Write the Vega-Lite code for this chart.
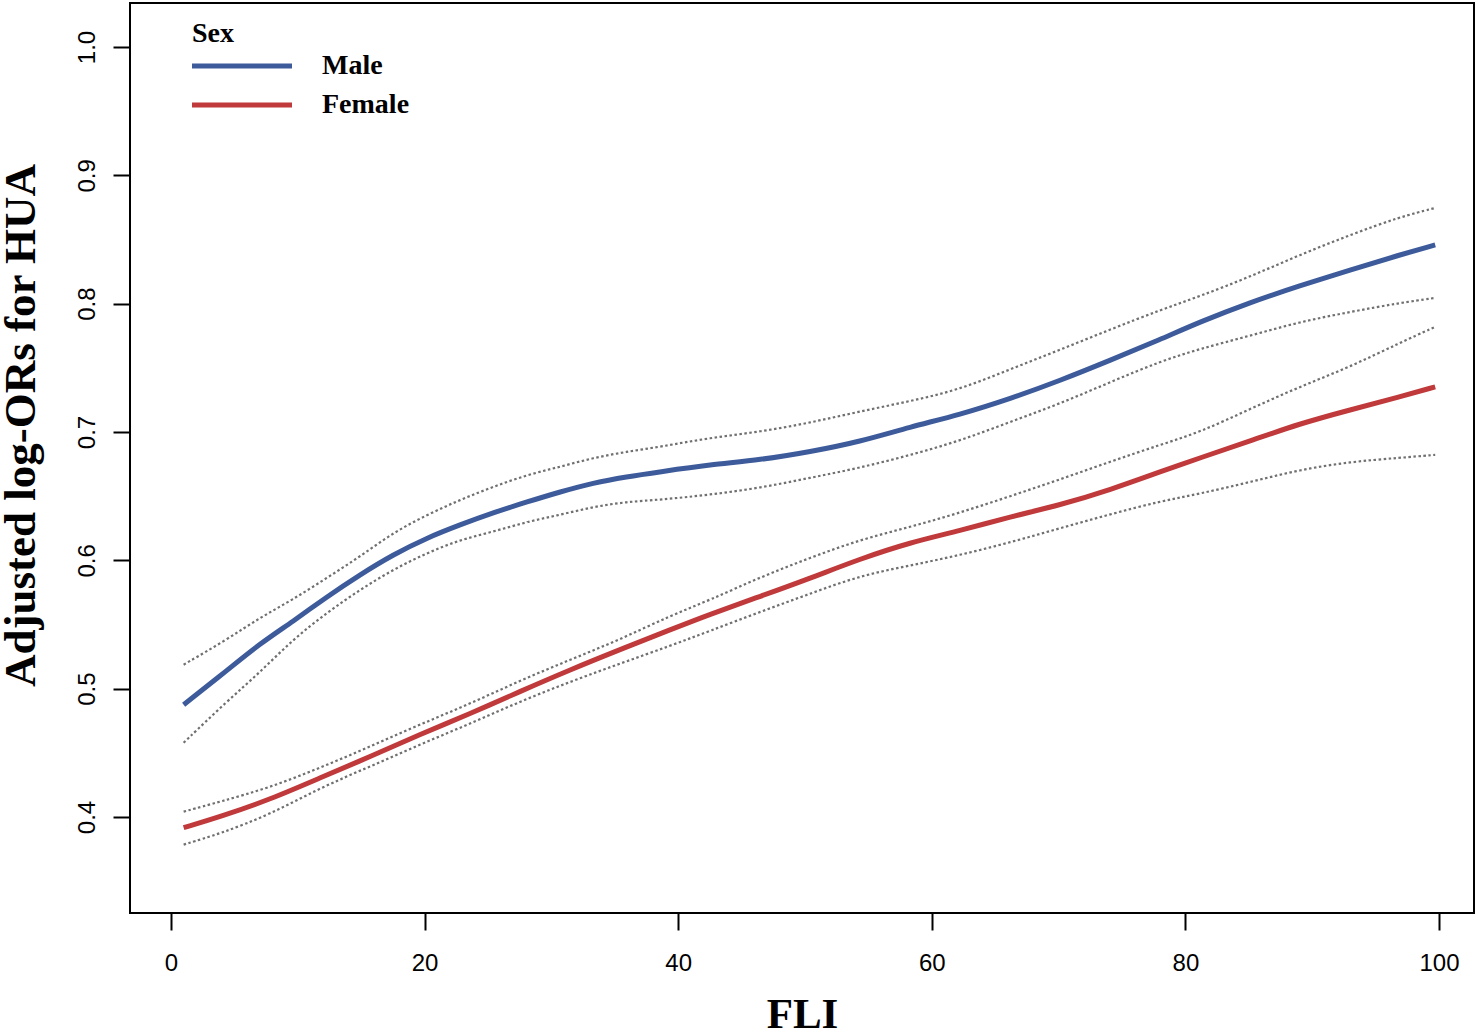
{
  "$schema": "https://vega.github.io/schema/vega-lite/v6.json",
  "description": "Adjusted log-ORs for HUA by FLI and sex",
  "width": 1344,
  "height": 910,
  "autosize": {"type": "none"},
  "padding": {"left": 130, "top": 3, "right": 2, "bottom": 121},
  "background": "white",
  "config": {
    "view": {"stroke": "#000000", "strokeWidth": 2},
    "axis": {
      "domain": false,
      "grid": false,
      "ticks": true,
      "tickColor": "#000000",
      "tickWidth": 2,
      "tickSize": 17,
      "labelFont": "Liberation Sans",
      "labelFontSize": 24,
      "labelColor": "#000000",
      "titleFont": "Liberation Serif",
      "titleFontSize": 43,
      "titleFontWeight": "bold",
      "titleColor": "#000000"
    }
  },
  "data": {
    "values": [
      {"fli": 1, "sex": "Male", "est": 0.4875, "lo": 0.4579, "hi": 0.5187},
      {"fli": 4.4, "sex": "Male", "est": 0.514, "lo": 0.49, "hi": 0.5382},
      {"fli": 7, "sex": "Male", "est": 0.535, "lo": 0.5125, "hi": 0.5553},
      {"fli": 9.6, "sex": "Male", "est": 0.5522, "lo": 0.5382, "hi": 0.5693},
      {"fli": 12.3, "sex": "Male", "est": 0.5717, "lo": 0.5592, "hi": 0.5864},
      {"fli": 14.9, "sex": "Male", "est": 0.5888, "lo": 0.5771, "hi": 0.6028},
      {"fli": 17.5, "sex": "Male", "est": 0.6044, "lo": 0.5927, "hi": 0.6215},
      {"fli": 20.2, "sex": "Male", "est": 0.6176, "lo": 0.6059, "hi": 0.6355},
      {"fli": 22.8, "sex": "Male", "est": 0.6277, "lo": 0.616, "hi": 0.6472},
      {"fli": 25.4, "sex": "Male", "est": 0.6371, "lo": 0.6223, "hi": 0.6573},
      {"fli": 28.1, "sex": "Male", "est": 0.6456, "lo": 0.6301, "hi": 0.6667},
      {"fli": 30.7, "sex": "Male", "est": 0.6534, "lo": 0.6355, "hi": 0.6729},
      {"fli": 33.3, "sex": "Male", "est": 0.6604, "lo": 0.6417, "hi": 0.6799},
      {"fli": 35.9, "sex": "Male", "est": 0.6651, "lo": 0.6456, "hi": 0.6846},
      {"fli": 38.6, "sex": "Male", "est": 0.669, "lo": 0.6472, "hi": 0.6885},
      {"fli": 42.5, "sex": "Male", "est": 0.6745, "lo": 0.6511, "hi": 0.6955},
      {"fli": 46.5, "sex": "Male", "est": 0.6783, "lo": 0.6565, "hi": 0.7002},
      {"fli": 50.4, "sex": "Male", "est": 0.6846, "lo": 0.6643, "hi": 0.7072},
      {"fli": 54.3, "sex": "Male", "est": 0.6924, "lo": 0.672, "hi": 0.716},
      {"fli": 58.3, "sex": "Male", "est": 0.704, "lo": 0.682, "hi": 0.724},
      {"fli": 62.2, "sex": "Male", "est": 0.7135, "lo": 0.693, "hi": 0.733},
      {"fli": 66.2, "sex": "Male", "est": 0.726, "lo": 0.708, "hi": 0.749},
      {"fli": 70.1, "sex": "Male", "est": 0.74, "lo": 0.722, "hi": 0.764},
      {"fli": 74.1, "sex": "Male", "est": 0.756, "lo": 0.739, "hi": 0.78},
      {"fli": 78, "sex": "Male", "est": 0.772, "lo": 0.755, "hi": 0.795},
      {"fli": 81.2, "sex": "Male", "est": 0.786, "lo": 0.765, "hi": 0.806},
      {"fli": 85.1, "sex": "Male", "est": 0.801, "lo": 0.775, "hi": 0.821},
      {"fli": 89, "sex": "Male", "est": 0.814, "lo": 0.7858, "hi": 0.838},
      {"fli": 93, "sex": "Male", "est": 0.8263, "lo": 0.7936, "hi": 0.8536},
      {"fli": 96.9, "sex": "Male", "est": 0.838, "lo": 0.8006, "hi": 0.8676},
      {"fli": 99.7, "sex": "Male", "est": 0.8458, "lo": 0.8045, "hi": 0.8746},
      {"fli": 1, "sex": "Female", "est": 0.3917, "lo": 0.3785, "hi": 0.4042},
      {"fli": 3.9, "sex": "Female", "est": 0.4003, "lo": 0.3871, "hi": 0.412},
      {"fli": 7.8, "sex": "Female", "est": 0.4136, "lo": 0.4019, "hi": 0.4229},
      {"fli": 11.8, "sex": "Female", "est": 0.4307, "lo": 0.4229, "hi": 0.4385},
      {"fli": 15.7, "sex": "Female", "est": 0.447, "lo": 0.4393, "hi": 0.4548},
      {"fli": 19.6, "sex": "Female", "est": 0.4642, "lo": 0.4564, "hi": 0.472},
      {"fli": 23.6, "sex": "Female", "est": 0.4805, "lo": 0.4727, "hi": 0.4883},
      {"fli": 27.5, "sex": "Female", "est": 0.4977, "lo": 0.4899, "hi": 0.5062},
      {"fli": 31.5, "sex": "Female", "est": 0.5148, "lo": 0.5055, "hi": 0.5226},
      {"fli": 35.4, "sex": "Female", "est": 0.5304, "lo": 0.5195, "hi": 0.5382},
      {"fli": 39.4, "sex": "Female", "est": 0.546, "lo": 0.5335, "hi": 0.557},
      {"fli": 42.5, "sex": "Female", "est": 0.558, "lo": 0.545, "hi": 0.569},
      {"fli": 46.5, "sex": "Female", "est": 0.572, "lo": 0.56, "hi": 0.587},
      {"fli": 50.4, "sex": "Female", "est": 0.586, "lo": 0.574, "hi": 0.602},
      {"fli": 54.3, "sex": "Female", "est": 0.601, "lo": 0.588, "hi": 0.616},
      {"fli": 58.3, "sex": "Female", "est": 0.614, "lo": 0.596, "hi": 0.626},
      {"fli": 62.2, "sex": "Female", "est": 0.623, "lo": 0.604, "hi": 0.637},
      {"fli": 66.2, "sex": "Female", "est": 0.634, "lo": 0.614, "hi": 0.65},
      {"fli": 70.1, "sex": "Female", "est": 0.643, "lo": 0.625, "hi": 0.663},
      {"fli": 74.1, "sex": "Female", "est": 0.655, "lo": 0.636, "hi": 0.677},
      {"fli": 78, "sex": "Female", "est": 0.669, "lo": 0.646, "hi": 0.69},
      {"fli": 81.2, "sex": "Female", "est": 0.68, "lo": 0.652, "hi": 0.7},
      {"fli": 85.1, "sex": "Female", "est": 0.693, "lo": 0.661, "hi": 0.718},
      {"fli": 89, "sex": "Female", "est": 0.7065, "lo": 0.6706, "hi": 0.7352},
      {"fli": 93, "sex": "Female", "est": 0.7173, "lo": 0.6768, "hi": 0.7508},
      {"fli": 96.9, "sex": "Female", "est": 0.7274, "lo": 0.6799, "hi": 0.7695},
      {"fli": 99.7, "sex": "Female", "est": 0.7352, "lo": 0.6822, "hi": 0.7819}
    ]
  },
  "encoding": {
    "x": {
      "field": "fli",
      "type": "quantitative",
      "scale": {"domain": [-3.23, 102.76], "nice": false, "zero": false},
      "axis": {
        "title": "FLI",
        "values": [0, 20, 40, 60, 80, 100],
        "labelPadding": 21,
        "titleY": 101,
        "titleBaseline": "middle"
      }
    }
  },
  "layer": [
    {
      "mark": {"type": "line", "interpolate": "basis", "color": "#707070", "strokeWidth": 2.2, "strokeDash": [2.5, 2.5]},
      "encoding": {
        "y": {
          "field": "lo",
          "type": "quantitative",
          "scale": {"domain": [0.3252, 1.0343], "nice": false, "zero": false},
          "axis": {
            "title": "Adjusted log-ORs for HUA",
            "titleFontSize": 45,
            "values": [0.4, 0.5, 0.6, 0.7, 0.8, 0.9, 1.0],
            "format": ".1f",
            "labelAngle": 270,
            "labelAlign": "center",
            "labelBaseline": "alphabetic",
            "labelPadding": 19,
            "titleAngle": 270,
            "titleAlign": "center",
            "titleBaseline": "middle",
            "titleX": -110,
            "titleY": 422
          }
        },
        "detail": {"field": "sex"}
      }
    },
    {
      "mark": {"type": "line", "interpolate": "basis", "color": "#707070", "strokeWidth": 2.2, "strokeDash": [2.5, 2.5]},
      "encoding": {
        "y": {"field": "hi", "type": "quantitative"},
        "detail": {"field": "sex"}
      }
    },
    {
      "mark": {"type": "line", "interpolate": "basis", "strokeWidth": 5},
      "encoding": {
        "y": {"field": "est", "type": "quantitative"},
        "color": {
          "field": "sex",
          "type": "nominal",
          "scale": {"domain": ["Male", "Female"], "range": ["#3D5B9B", "#C0393B"]},
          "legend": {
            "title": "Sex",
            "orient": "none",
            "legendX": 62,
            "legendY": 17,
            "padding": 0,
            "titleFont": "Liberation Serif",
            "titleFontSize": 28,
            "titleFontWeight": "bold",
            "titleColor": "#000000",
            "titlePadding": 4,
            "labelFont": "Liberation Serif",
            "labelFontSize": 28,
            "labelFontWeight": "bold",
            "labelColor": "#000000",
            "symbolType": "M-5,0H5",
            "symbolSize": 400,
            "symbolStrokeWidth": 5,
            "symbolOffset": 36,
            "labelOffset": 66,
            "rowPadding": 11
          }
        }
      }
    }
  ]
}
